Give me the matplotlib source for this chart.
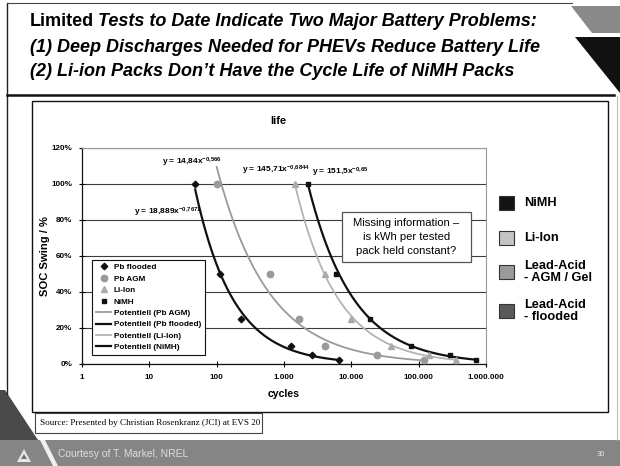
import matplotlib
matplotlib.use("Agg")
import numpy as np
import matplotlib.pyplot as plt
import matplotlib.patches as mpatches
from matplotlib.lines import Line2D
from matplotlib.ticker import FixedLocator, FixedFormatter

plt.rcParams['font.family'] = ['Liberation Sans', 'DejaVu Sans']
plt.rcParams['mathtext.fontset'] = 'custom'
plt.rcParams['mathtext.rm'] = 'Liberation Sans'
plt.rcParams['mathtext.bf'] = 'Liberation Sans:bold'
plt.rcParams['mathtext.it'] = 'Liberation Sans:italic'

# cycle-life test results, SOC swing as a fraction
pb_flooded_cycles = [48, 114, 226, 1290, 2600, 6500]
pb_flooded_soc = [1.00, 0.50, 0.25, 0.10, 0.05, 0.02]
pb_agm_cycles = [100, 617, 1660, 4130, 24400, 120000]
pb_agm_soc = [1.00, 0.50, 0.25, 0.10, 0.05, 0.02]
li_ion_cycles = [1450, 4030, 10000, 39400, 142000, 361000]
li_ion_soc = [1.00, 0.50, 0.25, 0.10, 0.05, 0.02]
nimh_cycles = [2300, 6000, 19200, 76000, 288000, 720000]
nimh_soc = [1.00, 0.50, 0.25, 0.10, 0.05, 0.02]

# power-law trend lines y = a * x^b
fit_pb_agm = (14.84, -0.566)
fit_pb_flooded = (18.889, -0.7671)
fit_li_ion = (145.71, -0.6844)
fit_nimh = (151.5, -0.65)

x_ticks = [1, 10, 100, 1000, 10000, 100000, 1000000]
x_tick_labels = ['1', '10', '100', '1.000', '10.000', '100.000', '1.000.000']
y_ticks = [0, 0.2, 0.4, 0.6, 0.8, 1.0, 1.2]
y_tick_labels = ['0%', '20%', '40%', '60%', '80%', '100%', '120%']

chem_names = ['NiMH', 'Li-Ion', 'Lead-Acid\n- AGM / Gel', 'Lead-Acid\n- flooded']
chem_colors = ['#141414', '#c4c4c4', '#9a9a9a', '#5a5a5a']

W, H = 620, 466


def fx(px):
    return px / W


def fy(py):
    return 1 - py / H


def fmt_num(v):
    # decimal comma, as printed on the trend labels
    return str(v).replace('.', ',')


fig = plt.figure(figsize=(W / 100, H / 100), dpi=100)
fig.patch.set_facecolor('white')

# ---- slide decoration ----
def fig_line(xs, ys, **kw):
    fig.add_artist(Line2D([fx(x) for x in xs], [fy(y) for y in ys], **kw))


def fig_poly(pts, **kw):
    fig.add_artist(mpatches.Polygon([(fx(x), fy(y)) for x, y in pts], closed=True, **kw))


fig_line([7, 7], [3, 394], color='#222', lw=1.0)
fig_line([7, 572], [3, 3], color='#444', lw=0.8)
fig_line([617, 617], [96, 440], color='#bbb', lw=0.8)
fig_line([7, 614], [95, 95], color='#111', lw=1.8)
fig_poly([(571, 6), (620, 6), (620, 33), (592, 33)], color='#8a8a8a', lw=0)
fig_poly([(575, 37), (620, 37), (620, 93)], color='#111', lw=0)
fig_poly([(0, 390), (5, 390), (38, 440), (0, 440)], color='#4a4a4a', lw=0)
fig_poly([(0, 440), (620, 440), (620, 466), (0, 466)], color='#858585', lw=0)
fig_poly([(40, 440), (45, 440), (58, 466), (53, 466)], color='#f0f0f0', lw=0)
fig_poly([(17, 462), (24, 449), (31, 462)], color='#e6e6e6', lw=0)
fig_poly([(21, 459), (24, 454), (27, 459)], color='#707070', lw=0)
fig.text(fx(58), fy(454), 'Courtesy of T. Markel, NREL', fontsize=7.4,
         color='#dedede', va='center', ha='left')
fig.text(fx(601), fy(455), '30', fontsize=5.5, color='#e8e8e8', va='center', ha='center')

# title block
title_size = 13.0
renderer = fig.canvas.get_renderer()
t1 = fig.text(fx(30), fy(22), 'Limited', fontsize=title_size, fontweight='bold',
              va='center', ha='left')
ext = t1.get_window_extent(renderer)
fig.text(ext.x1 / W + fx(4), fy(22), 'Tests to Date Indicate Two Major Battery Problems:',
         fontsize=title_size, fontweight='bold', style='italic', va='center', ha='left')
fig.text(fx(30), fy(47), '(1) Deep Discharges Needed for PHEVs Reduce Battery Life',
         fontsize=title_size, fontweight='bold', style='italic', va='center', ha='left')
fig.text(fx(30), fy(71), '(2) Li-ion Packs Don\u2019t Have the Cycle Life of NiMH Packs',
         fontsize=title_size, fontweight='bold', style='italic', va='center', ha='left')

# chart frame and source box
fig.add_artist(mpatches.Rectangle((fx(32), fy(412)), fx(608) - fx(32), fy(101) - fy(412),
                                  fill=False, ec='#111', lw=1.0))
fig.add_artist(mpatches.Rectangle((fx(35), fy(433)), fx(262) - fx(35), fy(413) - fy(433),
                                  fc='white', ec='#444', lw=0.8))
fig.text(fx(40), fy(423), 'Source: Presented by Christian Rosenkranz (JCI) at EVS 20',
         family=['Liberation Serif', 'DejaVu Serif'], fontsize=6.6, va='center', ha='left')

# ---- chart ----
ax = fig.add_axes([fx(82), fy(364), fx(486) - fx(82), fy(148) - fy(364)])
ax.set_xscale('log')
ax.set_xlim(1, 1e6)
ax.set_ylim(0, 1.2)
ax.xaxis.set_major_locator(FixedLocator(x_ticks))
ax.xaxis.set_major_formatter(FixedFormatter(x_tick_labels))
ax.xaxis.set_minor_locator(FixedLocator([]))
ax.yaxis.set_major_locator(FixedLocator(y_ticks))
ax.yaxis.set_major_formatter(FixedFormatter(y_tick_labels))
ax.tick_params(direction='inout', length=4, width=0.8, labelsize=5.8, pad=5)
for lab in ax.get_xticklabels() + ax.get_yticklabels():
    lab.set_fontweight('bold')
ax.yaxis.grid(True, color='#3c3c3c', lw=0.8)
ax.set_axisbelow(True)
for side in ['left', 'bottom']:
    ax.spines[side].set_color('#111')
    ax.spines[side].set_linewidth(0.9)
for side in ['top', 'right']:
    ax.spines[side].set_color('#999')
    ax.spines[side].set_linewidth(0.8)
    ax.spines[side].set_linestyle((0, (1, 1)))


def trend(cycles, fit, **kw):
    xs = np.geomspace(min(cycles), max(cycles), 200)
    return ax.plot(xs, fit[0] * xs ** fit[1], **kw)[0]


tr_agm = trend(pb_agm_cycles, fit_pb_agm, color='#9a9a9a', lw=1.3, zorder=3)
tr_fl = trend(pb_flooded_cycles, fit_pb_flooded, color='#111', lw=1.6, zorder=3)
tr_li = trend(li_ion_cycles, fit_li_ion, color='#b4b4b4', lw=1.3, zorder=3)
tr_ni = trend(nimh_cycles, fit_nimh, color='#111', lw=1.6, zorder=3)

m_fl, = ax.plot(pb_flooded_cycles, pb_flooded_soc, 'D', color='#111', ms=3.3, ls='none', zorder=4)
m_agm, = ax.plot(pb_agm_cycles, pb_agm_soc, 'o', color='#9a9a9a', ms=4.6, ls='none', zorder=4)
m_li, = ax.plot(li_ion_cycles, li_ion_soc, '^', color='#aaaaaa', ms=4.6, ls='none', zorder=4)
m_ni, = ax.plot(nimh_cycles, nimh_soc, 's', color='#111', ms=3.4, ls='none', zorder=4)


def eq_label(x, y, fit):
    a, b = fit
    txt = 'y = %sx$^{\\mathbf{%s}}$' % (fmt_num(a), fmt_num(b).replace(',', '{,}'))
    ax.text(x, y, txt, fontsize=6.0, fontweight='bold', va='center', ha='left', zorder=5)


eq_label(15.4, 1.12, fit_pb_agm)
eq_label(237, 1.078, fit_li_ion)
eq_label(2585, 1.067, fit_nimh)
eq_label(5.9, 0.844, fit_pb_flooded)

ax.set_xlabel('cycles', fontsize=7.6, fontweight='bold')
ax.xaxis.set_label_coords(0.5, -0.115)
ax.set_ylabel('SOC Swing / %', fontsize=8.1, fontweight='bold')
ax.yaxis.set_label_coords(-0.078, 0.5)
fig.text(fx(278), fy(121), 'life', fontsize=8, fontweight='bold', ha='center', va='center')

leg = ax.legend([m_fl, m_agm, m_li, m_ni, tr_agm, tr_fl, tr_li, tr_ni],
                ['Pb flooded', 'Pb AGM', 'Li-Ion', 'NiMH',
                 'Potentiell (Pb AGM)', 'Potentiell (Pb flooded)',
                 'Potentiell (Li-Ion)', 'Potentiell (NiMH)'],
                loc='upper left', bbox_to_anchor=(0.025, 0.482),
                prop=dict(weight='bold', size=5.9), frameon=True, fancybox=False,
                edgecolor='#111', framealpha=1, labelspacing=0.45, handlelength=1.9,
                handletextpad=0.3, borderpad=0.45, borderaxespad=0)
leg.get_frame().set_linewidth(0.8)
leg.set_zorder(6)

# callout
fig.add_artist(mpatches.Rectangle((fx(342), fy(262)), fx(471) - fx(342), fy(212) - fy(262),
                                  fc='white', ec='#555', lw=0.9, zorder=2))
for i, line in enumerate(['Missing information \u2013', 'is kWh per tested',
                          'pack held constant?']):
    fig.text(fx(406.5), fy(223 + 14 * i), line, fontsize=8.1, ha='center', va='center', zorder=3)

# chemistry key on the right
key_y = [203, 238, 272, 311]
for name, col, yy in zip(chem_names, chem_colors, key_y):
    fig.add_artist(mpatches.Rectangle((fx(499), fy(yy + 7)), fx(514) - fx(499), fy(yy - 7) - fy(yy + 7),
                                      fc=col, ec='#333', lw=0.8))
    fig.text(fx(524), fy(yy), name, fontsize=9.2, fontweight='bold', ha='left', va='center',
             linespacing=1.1)

fig.savefig('out.png', dpi=100)
